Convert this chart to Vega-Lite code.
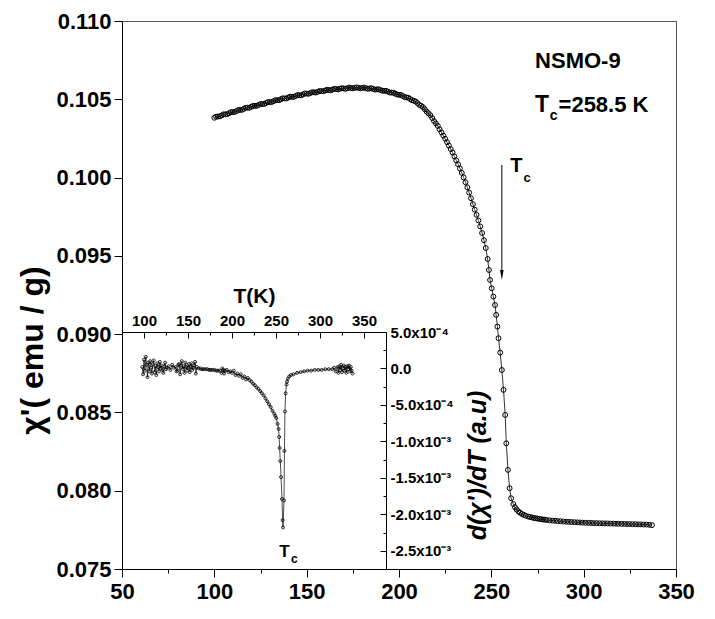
{
  "$schema": "https://vega.github.io/schema/vega-lite/v6.json",
  "width": 554,
  "height": 548,
  "autosize": "none",
  "padding": {"left": 122, "top": 21, "right": 39, "bottom": 50},
  "background": "white",
  "config": {
    "font": "Liberation Sans",
    "view": {"stroke": "#555", "strokeWidth": 1},
    "axis": {"grid": false, "domainColor": "black", "tickColor": "black", "labelColor": "black", "titleColor": "black", "labelFont": "Liberation Sans", "titleFont": "Liberation Sans", "labelFontWeight": "bold", "titleFontWeight": "bold", "domainWidth": 1, "tickWidth": 1}
  },
  "datasets": {
    "main": [
      {"T": 100, "chi": 0.10382}, {"T": 101, "chi": 0.10389}, {"T": 102, "chi": 0.10390}, {"T": 103, "chi": 0.10391}, {"T": 104, "chi": 0.10397},
      {"T": 105, "chi": 0.10404}, {"T": 106, "chi": 0.10404}, {"T": 107, "chi": 0.10405}, {"T": 108, "chi": 0.10411}, {"T": 109, "chi": 0.10418},
      {"T": 110, "chi": 0.10418}, {"T": 111, "chi": 0.10419}, {"T": 112, "chi": 0.10425}, {"T": 113, "chi": 0.10432}, {"T": 114, "chi": 0.10432},
      {"T": 115, "chi": 0.10433}, {"T": 116, "chi": 0.10439}, {"T": 117, "chi": 0.10446}, {"T": 118, "chi": 0.10446}, {"T": 119, "chi": 0.10446},
      {"T": 120, "chi": 0.10452}, {"T": 121, "chi": 0.10458}, {"T": 122, "chi": 0.10458}, {"T": 123, "chi": 0.10458}, {"T": 124, "chi": 0.10464},
      {"T": 125, "chi": 0.10470}, {"T": 126, "chi": 0.10470}, {"T": 127, "chi": 0.10470}, {"T": 128, "chi": 0.10476}, {"T": 129, "chi": 0.10482},
      {"T": 130, "chi": 0.10482}, {"T": 131, "chi": 0.10482}, {"T": 132, "chi": 0.10488}, {"T": 133, "chi": 0.10494}, {"T": 134, "chi": 0.10494},
      {"T": 135, "chi": 0.10494}, {"T": 136, "chi": 0.10500}, {"T": 137, "chi": 0.10506}, {"T": 138, "chi": 0.10506}, {"T": 139, "chi": 0.10505},
      {"T": 140, "chi": 0.10511}, {"T": 141, "chi": 0.10517}, {"T": 142, "chi": 0.10516}, {"T": 143, "chi": 0.10515}, {"T": 144, "chi": 0.10521},
      {"T": 145, "chi": 0.10527}, {"T": 146, "chi": 0.10526}, {"T": 147, "chi": 0.10525}, {"T": 148, "chi": 0.10531}, {"T": 149, "chi": 0.10537},
      {"T": 150, "chi": 0.10536}, {"T": 151, "chi": 0.10535}, {"T": 152, "chi": 0.10540}, {"T": 153, "chi": 0.10545}, {"T": 154, "chi": 0.10544},
      {"T": 155, "chi": 0.10543}, {"T": 156, "chi": 0.10548}, {"T": 157, "chi": 0.10553}, {"T": 158, "chi": 0.10552}, {"T": 159, "chi": 0.10551},
      {"T": 160, "chi": 0.10556}, {"T": 161, "chi": 0.10561}, {"T": 162, "chi": 0.10559}, {"T": 163, "chi": 0.10557}, {"T": 164, "chi": 0.10562},
      {"T": 165, "chi": 0.10567}, {"T": 166, "chi": 0.10565}, {"T": 167, "chi": 0.10563}, {"T": 168, "chi": 0.10567}, {"T": 169, "chi": 0.10571},
      {"T": 170, "chi": 0.10569}, {"T": 171, "chi": 0.10567}, {"T": 172, "chi": 0.10571}, {"T": 173, "chi": 0.10575}, {"T": 174, "chi": 0.10572},
      {"T": 175, "chi": 0.10570}, {"T": 176, "chi": 0.10573}, {"T": 177, "chi": 0.10576}, {"T": 178, "chi": 0.10573}, {"T": 179, "chi": 0.10570},
      {"T": 180, "chi": 0.10572}, {"T": 181, "chi": 0.10575}, {"T": 182, "chi": 0.10571}, {"T": 183, "chi": 0.10567}, {"T": 184, "chi": 0.10569},
      {"T": 185, "chi": 0.10571}, {"T": 186, "chi": 0.10566}, {"T": 187, "chi": 0.10562}, {"T": 188, "chi": 0.10563}, {"T": 189, "chi": 0.10564},
      {"T": 190, "chi": 0.10559}, {"T": 191, "chi": 0.10554}, {"T": 192, "chi": 0.10554}, {"T": 193, "chi": 0.10554}, {"T": 194, "chi": 0.10549},
      {"T": 195, "chi": 0.10543}, {"T": 196, "chi": 0.10543}, {"T": 197, "chi": 0.10542}, {"T": 198, "chi": 0.10536}, {"T": 199, "chi": 0.10530},
      {"T": 200, "chi": 0.10529}, {"T": 201, "chi": 0.10528}, {"T": 202, "chi": 0.10521}, {"T": 203, "chi": 0.10514}, {"T": 204, "chi": 0.10512},
      {"T": 205, "chi": 0.10510}, {"T": 206, "chi": 0.10502}, {"T": 207, "chi": 0.10494}, {"T": 208, "chi": 0.10491}, {"T": 209, "chi": 0.10486},
      {"T": 210, "chi": 0.10476}, {"T": 211, "chi": 0.10464}, {"T": 212, "chi": 0.10458}, {"T": 213, "chi": 0.10450}, {"T": 214, "chi": 0.10436},
      {"T": 215, "chi": 0.10421}, {"T": 216, "chi": 0.10410}, {"T": 217, "chi": 0.10398}, {"T": 218, "chi": 0.10380}, {"T": 219, "chi": 0.10361},
      {"T": 220, "chi": 0.10346}, {"T": 221, "chi": 0.10330}, {"T": 222, "chi": 0.10308}, {"T": 223, "chi": 0.10289}, {"T": 224, "chi": 0.10268},
      {"T": 225, "chi": 0.10248}, {"T": 226, "chi": 0.10226}, {"T": 227, "chi": 0.10205}, {"T": 228, "chi": 0.10182}, {"T": 229, "chi": 0.10160},
      {"T": 230, "chi": 0.10135}, {"T": 231, "chi": 0.10110}, {"T": 232, "chi": 0.10085}, {"T": 233, "chi": 0.10058}, {"T": 234, "chi": 0.10030},
      {"T": 235, "chi": 0.10001}, {"T": 236, "chi": 0.09970}, {"T": 237, "chi": 0.09938}, {"T": 238, "chi": 0.09904}, {"T": 239, "chi": 0.09868},
      {"T": 240, "chi": 0.09830}, {"T": 241, "chi": 0.09795}, {"T": 242, "chi": 0.09762}, {"T": 243, "chi": 0.09726}, {"T": 244, "chi": 0.09688},
      {"T": 245, "chi": 0.09646}, {"T": 246, "chi": 0.09600}, {"T": 247, "chi": 0.09550}, {"T": 248, "chi": 0.09480}, {"T": 248.7, "chi": 0.09410},
      {"T": 249.3, "chi": 0.09346}, {"T": 250.2, "chi": 0.09293}, {"T": 251.1, "chi": 0.09240}, {"T": 252.0, "chi": 0.09186}, {"T": 252.6, "chi": 0.09123},
      {"T": 253.3, "chi": 0.09048}, {"T": 253.9, "chi": 0.08974}, {"T": 254.8, "chi": 0.08882}, {"T": 255.7, "chi": 0.08771}, {"T": 256.6, "chi": 0.08644},
      {"T": 257.5, "chi": 0.08484}, {"T": 258.1, "chi": 0.08303}, {"T": 259.0, "chi": 0.08133}, {"T": 259.9, "chi": 0.08016}, {"T": 260.7, "chi": 0.07952},
      {"T": 261.9, "chi": 0.07915}, {"T": 262.8, "chi": 0.07895}, {"T": 263.7, "chi": 0.07880}, {"T": 264.6, "chi": 0.07868}, {"T": 265.5, "chi": 0.07860},
      {"T": 266.5, "chi": 0.07852}, {"T": 267.5, "chi": 0.07846}, {"T": 268.5, "chi": 0.07841}, {"T": 270, "chi": 0.07835}, {"T": 271, "chi": 0.07832},
      {"T": 272, "chi": 0.07829}, {"T": 273, "chi": 0.07826}, {"T": 274, "chi": 0.07824}, {"T": 275, "chi": 0.07822}, {"T": 276, "chi": 0.07820},
      {"T": 277, "chi": 0.07818}, {"T": 278, "chi": 0.07816}, {"T": 279, "chi": 0.07815}, {"T": 280, "chi": 0.07813}, {"T": 281.5, "chi": 0.07811},
      {"T": 283, "chi": 0.07809}, {"T": 284.5, "chi": 0.07808}, {"T": 286, "chi": 0.07806}, {"T": 287.5, "chi": 0.07805}, {"T": 289, "chi": 0.07803},
      {"T": 290.5, "chi": 0.07802}, {"T": 292, "chi": 0.07801}, {"T": 293.5, "chi": 0.07800}, {"T": 295, "chi": 0.07799}, {"T": 296.5, "chi": 0.07798},
      {"T": 298, "chi": 0.07797}, {"T": 299.5, "chi": 0.07796}, {"T": 301, "chi": 0.07795}, {"T": 302.5, "chi": 0.07795}, {"T": 304, "chi": 0.07794},
      {"T": 305.5, "chi": 0.07793}, {"T": 307, "chi": 0.07793}, {"T": 308.5, "chi": 0.07792}, {"T": 310, "chi": 0.07792}, {"T": 311.5, "chi": 0.07791},
      {"T": 313, "chi": 0.07791}, {"T": 314.5, "chi": 0.07790}, {"T": 316, "chi": 0.07790}, {"T": 317.5, "chi": 0.07789}, {"T": 319, "chi": 0.07789},
      {"T": 320.5, "chi": 0.07788}, {"T": 322, "chi": 0.07788}, {"T": 323.5, "chi": 0.07787}, {"T": 325, "chi": 0.07787}, {"T": 326.5, "chi": 0.07786},
      {"T": 328, "chi": 0.07786}, {"T": 329.5, "chi": 0.07785}, {"T": 331, "chi": 0.07785}, {"T": 332.5, "chi": 0.07784}, {"T": 334, "chi": 0.07784},
      {"T": 335.5, "chi": 0.07782}, {"T": 337, "chi": 0.07780}
    ],
    "inset": [
      {"T": 98, "d": 0.00002}, {"T": 99, "d": -0.00008}, {"T": 100, "d": 0.00012}, {"T": 101, "d": -0.00003}, {"T": 102, "d": 0.00016},
      {"T": 103, "d": 0.00005}, {"T": 104, "d": -0.00012}, {"T": 105, "d": 0.00008}, {"T": 106, "d": -0.00004}, {"T": 107, "d": 0.00010},
      {"T": 108, "d": 0.00001}, {"T": 109, "d": -0.00007}, {"T": 110, "d": 0.00006}, {"T": 111, "d": 0.00011}, {"T": 112, "d": -0.00005},
      {"T": 113, "d": 0.00003}, {"T": 114, "d": -0.00009}, {"T": 115, "d": 0.00007}, {"T": 116, "d": 0.00002}, {"T": 117, "d": -0.00004},
      {"T": 118, "d": 0.00009}, {"T": 119, "d": 0.00000}, {"T": 120, "d": 0.00004}, {"T": 121, "d": -0.00002}, {"T": 122, "d": -0.00006},
      {"T": 123, "d": 0.00003}, {"T": 124, "d": 0.00008}, {"T": 125, "d": -0.00001}, {"T": 126, "d": 0.00001}, {"T": 128, "d": 0.00003},
      {"T": 130, "d": -0.00002}, {"T": 132, "d": 0.00005}, {"T": 134, "d": 0.00001}, {"T": 136, "d": 0.00002}, {"T": 137, "d": -0.00004},
      {"T": 138, "d": -0.00003}, {"T": 139, "d": 0.00005}, {"T": 140, "d": 0.00006}, {"T": 141, "d": -0.00008}, {"T": 142, "d": 0.00004},
      {"T": 143, "d": 0.00010}, {"T": 144, "d": -0.00001}, {"T": 145, "d": 0.00003}, {"T": 146, "d": -0.00006}, {"T": 147, "d": 0.00008},
      {"T": 148, "d": 0.00002}, {"T": 149, "d": -0.00003}, {"T": 150, "d": 0.00001}, {"T": 151, "d": 0.00006}, {"T": 152, "d": -0.00005},
      {"T": 153, "d": 0.00002}, {"T": 154, "d": 0.00007}, {"T": 155, "d": -0.00002}, {"T": 156, "d": 0.00001}, {"T": 157, "d": 0.00004},
      {"T": 158, "d": 0.00009}, {"T": 159, "d": -0.00007}, {"T": 160, "d": 0.00002}, {"T": 162, "d": 0.00000}, {"T": 164, "d": 0.00000},
      {"T": 166, "d": -0.00001}, {"T": 168, "d": -0.00001}, {"T": 170, "d": -0.00001}, {"T": 172, "d": -0.00001}, {"T": 174, "d": -0.00002},
      {"T": 176, "d": -0.00002}, {"T": 178, "d": -0.00002}, {"T": 180, "d": -0.00002}, {"T": 182, "d": -0.00003}, {"T": 184, "d": -0.00003},
      {"T": 186, "d": -0.00003}, {"T": 188, "d": -0.00006}, {"T": 189, "d": 0.00000}, {"T": 190, "d": -0.00002}, {"T": 191, "d": -0.00007},
      {"T": 192, "d": -0.00003}, {"T": 194, "d": -0.00002}, {"T": 196, "d": -0.00005}, {"T": 198, "d": -0.00004}, {"T": 200, "d": -0.00006},
      {"T": 202, "d": -0.00003}, {"T": 204, "d": -0.00009}, {"T": 206, "d": -0.00007}, {"T": 208, "d": -0.00010}, {"T": 210, "d": -0.00008},
      {"T": 212, "d": -0.00013}, {"T": 214, "d": -0.00011}, {"T": 216, "d": -0.00015}, {"T": 218, "d": -0.00013}, {"T": 220, "d": -0.00016},
      {"T": 222, "d": -0.00018}, {"T": 224, "d": -0.00021}, {"T": 226, "d": -0.00023}, {"T": 228, "d": -0.00026}, {"T": 230, "d": -0.00028},
      {"T": 232, "d": -0.00031}, {"T": 234, "d": -0.00034}, {"T": 236, "d": -0.00037}, {"T": 238, "d": -0.00041}, {"T": 240, "d": -0.00045},
      {"T": 242, "d": -0.00049}, {"T": 244, "d": -0.00053}, {"T": 246, "d": -0.00058}, {"T": 248, "d": -0.00062}, {"T": 249.2, "d": -0.00065},
      {"T": 250.3, "d": -0.00068}, {"T": 251.8, "d": -0.00076}, {"T": 253.0, "d": -0.00083}, {"T": 253.6, "d": -0.00094}, {"T": 254.1, "d": -0.00109},
      {"T": 254.9, "d": -0.00127}, {"T": 255.7, "d": -0.00149}, {"T": 256.8, "d": -0.00179}, {"T": 257.5, "d": -0.00208}, {"T": 258.0, "d": -0.00218},
      {"T": 259.1, "d": -0.00181}, {"T": 259.6, "d": -0.00113}, {"T": 260.2, "d": -0.00059}, {"T": 260.9, "d": -0.00034}, {"T": 262.0, "d": -0.00022},
      {"T": 262.5, "d": -0.00018}, {"T": 263.5, "d": -0.00014}, {"T": 265, "d": -0.00011}, {"T": 267, "d": -0.00009}, {"T": 270, "d": -0.00008},
      {"T": 274, "d": -0.00006}, {"T": 278, "d": -0.00005}, {"T": 282, "d": -0.00004}, {"T": 286, "d": -0.00003}, {"T": 290, "d": -0.00003},
      {"T": 294, "d": -0.00002}, {"T": 298, "d": -0.00002}, {"T": 302, "d": -0.00002}, {"T": 306, "d": -0.00001}, {"T": 310, "d": -0.00001},
      {"T": 314, "d": -0.00001}, {"T": 316, "d": 0.00001}, {"T": 318, "d": -0.00004}, {"T": 320, "d": 0.00002}, {"T": 321, "d": -0.00006},
      {"T": 322, "d": 0.00003}, {"T": 323, "d": -0.00002}, {"T": 324, "d": 0.00005}, {"T": 325, "d": -0.00005}, {"T": 326, "d": 0.00000},
      {"T": 327, "d": 0.00004}, {"T": 328, "d": -0.00003}, {"T": 329, "d": 0.00002}, {"T": 330, "d": -0.00006}, {"T": 331, "d": 0.00003},
      {"T": 332, "d": -0.00001}, {"T": 333, "d": 0.00004}, {"T": 334, "d": -0.00004}, {"T": 335, "d": 0.00002}, {"T": 336, "d": -0.00003},
      {"T": 337, "d": -0.00007}
    ]
  },
  "layer": [
    {
      "data": {"name": "main"},
      "layer": [
        {
          "mark": {"type": "line", "color": "black", "strokeWidth": 0.8},
          "encoding": {
            "x": {"field": "T", "type": "quantitative",
              "scale": {"domain": [50, 350], "nice": false, "zero": false},
              "axis": {"orient": "bottom", "title": null,
                "values": [50, 75, 100, 125, 150, 175, 200, 225, 250, 275, 300, 325, 350],
                "labelExpr": "datum.value % 50 === 0 ? datum.label : ''",
                "tickSize": {"condition": {"test": "datum.value % 50 === 0", "value": 8}, "value": 4},
                "labelFontSize": 22, "labelPadding": 4, "labelFlush": false, "labelOverlap": false}},
            "y": {"field": "chi", "type": "quantitative",
              "scale": {"domain": [0.075, 0.11], "nice": false, "zero": false},
              "axis": {"orient": "left",
                "values": [0.075, 0.0775, 0.08, 0.0825, 0.085, 0.0875, 0.09, 0.0925, 0.095, 0.0975, 0.1, 0.1025, 0.105, 0.1075, 0.11],
                "labelExpr": "abs(datum.value*200 - round(datum.value*200)) < 0.01 ? format(datum.value, '.3f') : ''",
                "tickSize": {"condition": {"test": "abs(datum.value*200 - round(datum.value*200)) < 0.01", "value": 8}, "value": 4},
                "labelFontSize": 22, "labelPadding": 3, "labelOverlap": false, "labelFlush": false,
                "title": "χ'( emu / g)", "titleFontSize": 32, "titleAngle": 270,
                "titleX": -90, "titleY": 329, "titleAlign": "center", "titleBaseline": "middle"}}
          }
        },
        {
          "mark": {"type": "point", "shape": "circle", "filled": false, "color": "black", "size": 24, "strokeWidth": 1, "opacity": 1},
          "encoding": {
            "x": {"field": "T", "type": "quantitative"},
            "y": {"field": "chi", "type": "quantitative"}
          }
        },
        {
          "data": {"values": [{"label": "NSMO-9"}]},
          "mark": {"type": "text", "align": "left", "baseline": "alphabetic", "fontWeight": "bold", "fontSize": 22, "color": "black"},
          "encoding": {"x": {"datum": 273.7}, "y": {"datum": 0.1070}, "text": {"field": "label"}}
        },
        {
          "data": {"values": [{"label": "T"}]},
          "mark": {"type": "text", "align": "left", "baseline": "alphabetic", "fontWeight": "bold", "fontSize": 23, "color": "black"},
          "encoding": {"x": {"datum": 273.7}, "y": {"datum": 0.10419}, "text": {"field": "label"}}
        },
        {
          "data": {"values": [{"label": "c"}]},
          "mark": {"type": "text", "align": "left", "baseline": "alphabetic", "fontWeight": "bold", "fontSize": 14, "color": "black"},
          "encoding": {"x": {"datum": 281.6}, "y": {"datum": 0.10368}, "text": {"field": "label"}}
        },
        {
          "data": {"values": [{"label": "=258.5 K"}]},
          "mark": {"type": "text", "align": "left", "baseline": "alphabetic", "fontWeight": "bold", "fontSize": 22, "color": "black"},
          "encoding": {"x": {"datum": 286.4}, "y": {"datum": 0.10419}, "text": {"field": "label"}}
        },
        {
          "data": {"values": [{"label": "T"}]},
          "mark": {"type": "text", "align": "left", "baseline": "alphabetic", "fontWeight": "bold", "fontSize": 20, "color": "black"},
          "encoding": {"x": {"datum": 260.2}, "y": {"datum": 0.10036}, "text": {"field": "label"}}
        },
        {
          "data": {"values": [{"label": "c"}]},
          "mark": {"type": "text", "align": "left", "baseline": "alphabetic", "fontWeight": "bold", "fontSize": 13, "color": "black"},
          "encoding": {"x": {"datum": 267.4}, "y": {"datum": 0.09972}, "text": {"field": "label"}}
        },
        {
          "data": {"values": [{"label": "arrow"}]},
          "mark": {"type": "rule", "color": "black", "strokeWidth": 1},
          "encoding": {"x": {"datum": 255.7}, "y": {"datum": 0.1008}, "y2": {"datum": 0.0938}}
        },
        {
          "data": {"values": [{"label": "arrowhead"}]},
          "mark": {"type": "point", "shape": "M-0.35,-1L0.35,-1L0,1Z", "filled": true, "color": "black", "size": 100, "opacity": 1, "strokeWidth": 0},
          "encoding": {"x": {"datum": 255.7}, "y": {"datum": 0.09378}}
        }
      ]
    },
    {
      "data": {"name": "inset"},
      "layer": [
        {
          "mark": {"type": "line", "color": "black", "strokeWidth": 0.7},
          "encoding": {
            "x": {"field": "T", "type": "quantitative",
              "scale": {"domain": [75, 375], "range": [0, 264], "nice": false, "zero": false},
              "axis": {"orient": "top", "offset": -311,
                "values": [100, 125, 150, 175, 200, 225, 250, 275, 300, 325, 350],
                "labelExpr": "datum.value % 50 === 0 ? datum.label : ''",
                "tickSize": {"condition": {"test": "datum.value % 50 === 0", "value": -6}, "value": -3},
                "labelFontSize": 15, "labelPadding": 10, "labelFlush": false, "labelOverlap": false,
                "title": "T(K)", "titleFontSize": 21, "titlePadding": 4}},
            "y": {"field": "d", "type": "quantitative",
              "scale": {"domain": [-0.00275, 0.0005], "range": [548, 311], "nice": false, "zero": false},
              "axis": {"orient": "right", "offset": -290,
                "values": [-0.0025, -0.00225, -0.002, -0.00175, -0.0015, -0.00125, -0.001, -0.00075, -0.0005, -0.00025, 0, 0.00025, 0.0005],
                "labelExpr": "abs(datum.value*2000 - round(datum.value*2000)) > 0.01 ? '' : (round(datum.value*2000) == 1 ? '5.0x10⁻⁴' : round(datum.value*2000) == 0 ? '0.0' : round(datum.value*2000) == -1 ? '-5.0x10⁻⁴' : round(datum.value*2000) == -2 ? '-1.0x10⁻³' : round(datum.value*2000) == -3 ? '-1.5x10⁻³' : round(datum.value*2000) == -4 ? '-2.0x10⁻³' : '-2.5x10⁻³')",
                "tickSize": {"condition": {"test": "abs(datum.value*2000 - round(datum.value*2000)) < 0.01", "value": -6}, "value": -3},
                "labelFontSize": 15, "labelPadding": 10, "labelFlush": false, "labelOverlap": false, "labelAlign": "left",
                "title": "d(χ')/dT  (a.u)", "titleFontSize": 25, "titleFontStyle": "italic", "titleAngle": 270,
                "titleX": 91, "titleY": 444, "titleAlign": "center", "titleBaseline": "middle"}}
          }
        },
        {
          "mark": {"type": "point", "shape": "circle", "filled": false, "color": "black", "size": 9, "strokeWidth": 0.8, "opacity": 1},
          "encoding": {
            "x": {"field": "T", "type": "quantitative"},
            "y": {"field": "d", "type": "quantitative"}
          }
        },
        {
          "data": {"values": [{"label": "T"}]},
          "mark": {"type": "text", "align": "left", "baseline": "alphabetic", "fontWeight": "bold", "fontSize": 17, "color": "black"},
          "encoding": {"x": {"datum": 253.8}, "y": {"datum": -0.002588}, "text": {"field": "label"}}
        },
        {
          "data": {"values": [{"label": "c"}]},
          "mark": {"type": "text", "align": "left", "baseline": "alphabetic", "fontWeight": "bold", "fontSize": 12, "color": "black"},
          "encoding": {"x": {"datum": 267}, "y": {"datum": -0.00267}, "text": {"field": "label"}}
        }
      ]
    }
  ],
  "resolve": {"scale": {"x": "independent", "y": "independent"}, "axis": {"x": "independent", "y": "independent"}}
}
